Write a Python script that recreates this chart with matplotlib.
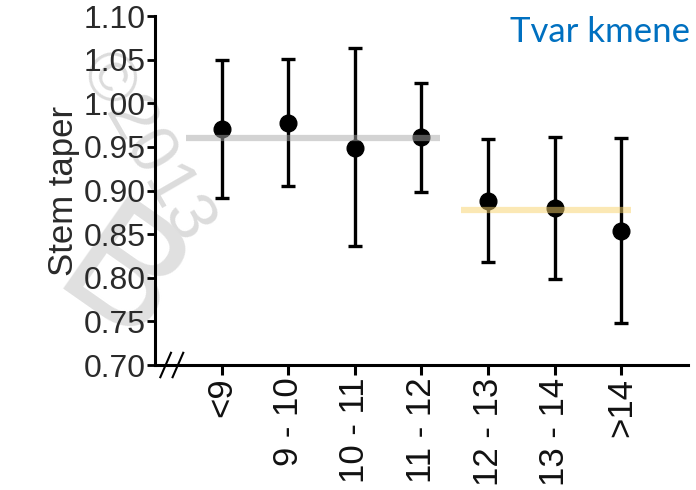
import matplotlib
matplotlib.use("Agg")
import matplotlib.pyplot as plt

plt.rcParams['font.family'] = ['Liberation Sans', 'DejaVu Sans']

# stem diameter classes and their mean stem taper with error bar ends
categories = ['<9', '9 - 10', '10 - 11', '11 - 12', '12 - 13', '13 - 14', '>14']
means = [0.970, 0.977, 0.949, 0.961, 0.888, 0.880, 0.854]
upper = [1.050, 1.051, 1.063, 1.023, 0.959, 0.961, 0.960]
lower = [0.891, 0.905, 0.836, 0.898, 0.818, 0.799, 0.748]

# group means shown as horizontal bands
group_levels = [0.960, 0.878]
group_start = [-0.53, 3.59]
group_end = [3.28, 6.14]
group_colors = ['#a8a8a8', '#f9d36b']

fig = plt.figure(figsize=(6.96, 4.90), dpi=100)
ax = fig.add_axes([0.2227, 0.2551, 0.7658, 0.7122])

# watermark, behind everything
fig.text(0.21, 0.70, '©2013', fontsize=50, color='#dcdcdc', rotation=-60,
         ha='center', va='center', zorder=-5)
fig.text(0.17, 0.42, 'B', fontsize=120, color='#e0e0e0', rotation=-35,
         ha='center', va='center', zorder=-5)

x = list(range(len(categories)))
yerr = [[m - l for m, l in zip(means, lower)], [u - m for m, u in zip(means, upper)]]
ax.errorbar(x, means, yerr=yerr, fmt='o', color='black', markersize=12,
            elinewidth=2.4, capsize=5, capthick=2.4, zorder=3)

for lvl, s, e, c in zip(group_levels, group_start, group_end, group_colors):
    ax.hlines(lvl, s, e, colors=c, linewidth=4.5, alpha=0.5, zorder=4)

ax.set_xlim(-1, 7)
ax.set_ylim(0.70, 1.10)
ax.set_yticks([0.70, 0.75, 0.80, 0.85, 0.90, 0.95, 1.00, 1.05, 1.10])
ax.set_yticklabels(['0.70', '0.75', '0.80', '0.85', '0.90', '0.95', '1.00', '1.05', '1.10'])
ax.set_xticks(x)
ax.set_xticklabels(categories, rotation=90, va='top')
ax.patch.set_alpha(0)

for side in ['top', 'right']:
    ax.spines[side].set_visible(False)
for side in ['left', 'bottom']:
    ax.spines[side].set_linewidth(2.2)

ax.tick_params(axis='y', labelsize=23, width=2, length=6, colors='black', labelcolor='#2a2a2a', pad=1)
ax.tick_params(axis='x', labelsize=25, width=2.2, length=7, labelcolor='#111111', pad=2)
ax.set_ylabel('Stem taper', fontsize=25, color='#2a2a2a', labelpad=2)

# axis break marks
for dx in (0.020, 0.043):
    ax.plot([dx - 0.010, dx + 0.010], [-0.035, 0.035], transform=ax.transAxes,
            color='black', linewidth=1.5, clip_on=False, zorder=5)

fig.text(0.992, 0.935, 'Tvar kmene', fontsize=25, color='#0070C0',
         family=['Lato', 'DejaVu Sans'], ha='right', va='center')

fig.savefig('out.png', dpi=100)
